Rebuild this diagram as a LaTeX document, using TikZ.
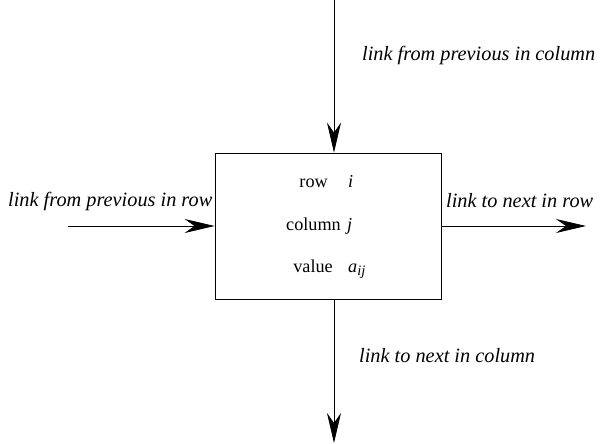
\documentclass[tikz,border=0pt]{standalone}
\usepackage{fontspec}
\setmainfont{Liberation Serif}
\usetikzlibrary{arrows.meta}
\begin{document}
\begin{tikzpicture}[x=1pt,y=-1pt,
  lnk/.style={draw=black,line width=0.8pt,-{Stealth[length=30pt,width=14pt,inset=10pt]}},
  lbl/.style={font=\fontsize{20.3}{24}\selectfont\itshape,inner sep=0pt},
  fld/.style={font=\fontsize{18.2}{22}\selectfont,inner sep=0pt}]
\useasboundingbox (0,0) rectangle (611,444);
\node[draw,line width=0.8pt,minimum width=226pt,minimum height=146pt,inner sep=0pt] (cell) at (328,226) {};
\coordinate (top) at (334,0);
\coordinate (bot) at (334,443);
\coordinate (lft) at (68,226);
\coordinate (rgt) at (586,226);
\draw[lnk] (top) -- (top |- cell.north);
\draw[lnk] (bot |- cell.south) -- (bot);
\draw[lnk] (lft) -- (cell.west |- lft);
\draw[lnk] (cell.east |- rgt) -- (rgt);
\node[lbl,anchor=base west] (t1) at (362,61) {link from previous in column};
\node[lbl,anchor=base west] (t2) at (8,206) {link from previous in row};
\node[lbl,anchor=base west] (t3) at (446,207) {link to next in row};
\node[lbl,anchor=base west] (t4) at (359,362) {link to next in column};
\node[fld,anchor=base east] (r) at (328,187) {row};
\node[fld,anchor=base west] (ri) at (348,187) {\textit{i}};
\node[fld,anchor=base east] (c) at (341,230) {column};
\node[fld,anchor=base west] (cj) at (347,230) {\textit{j}};
\node[fld,anchor=base east] (v) at (333,272) {value};
\node[fld,anchor=base west] (va) at (348,272) {\textit{a}\raisebox{-0.4ex}{\fontsize{14.5}{16}\selectfont\textit{ij}}};
\end{tikzpicture}
\end{document}
